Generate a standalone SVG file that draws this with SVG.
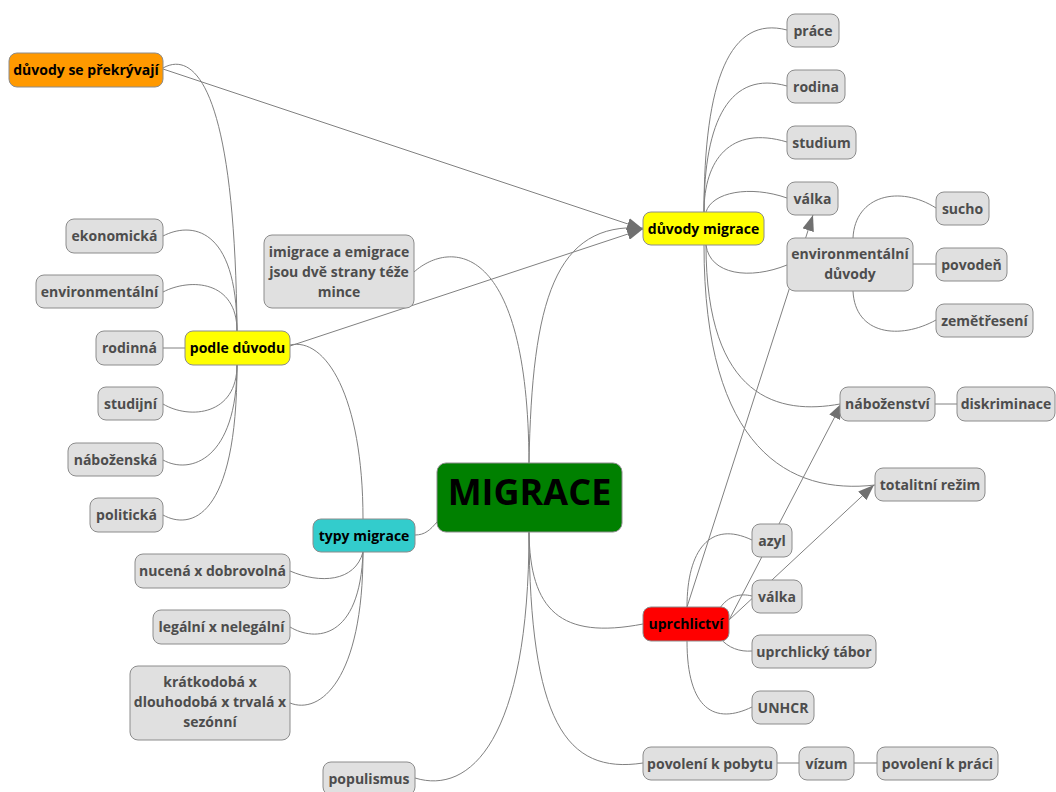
<svg xmlns="http://www.w3.org/2000/svg" width="1056" height="792" viewBox="0 0 1056 792">
<defs>
<style>
.n rect{fill:#e0e0e0;stroke:#8c8c8c;stroke-width:1}
.n text{font-family:"Open Sans","Noto Sans","Liberation Sans",sans-serif;font-weight:700;font-size:14px;fill:#4d4d4d;text-anchor:middle}
.n.k text{fill:#000}
.c path,.c line{fill:none;stroke:#808080;stroke-width:1}
.c .a{marker-end:url(#ah)}
</style>
<marker id="ah" viewBox="0 0 16 12" refX="16" refY="6" markerWidth="16" markerHeight="12" markerUnits="userSpaceOnUse" orient="auto"><path d="M0,0 L16,6 L0,12 z" fill="#707070"/></marker>
</defs>
<rect width="1056" height="792" fill="#ffffff"/>
<g id="connectors" class="c">
<path d="M414,272 C450,240 528,240 529,463"/>
<path d="M529,463 C532,300 555,222 643,228"/>
<path d="M437,522 C430,530 425,535 415,535"/>
<path d="M529,532 C530,610 560,640 643,624"/>
<path d="M529,532 C530,720 565,775 643,763"/>
<path d="M415,778 C470,795 529,740 529,532"/>
<path d="M290,345 C325,337 363,395 363,519"/>
<path d="M290,571 C320,584 355,582 363,552"/>
<path d="M290,627 C315,642 360,640 363,552"/>
<path d="M290,703 C320,715 363,680 363,552"/>
<path d="M163,68 C195,50 235,90 237,331"/>
<path d="M163,236 C190,222 237,225 237,331"/>
<path d="M163,292 C190,278 237,280 237,331"/>
<line x1="163" y1="348" x2="185" y2="348"/>
<path d="M163,404 C190,420 237,415 237,365"/>
<path d="M163,460 C190,475 237,460 237,365"/>
<path d="M163,515 C190,530 237,520 237,365"/>
<path d="M704,212 C704,80 730,15 787,30"/>
<path d="M704,212 C704,120 730,70 787,86"/>
<path d="M704,212 C704,160 730,125 787,142"/>
<path d="M706,212 C712,192 750,185 787,198"/>
<path d="M706,245 C710,275 750,280 787,265"/>
<path d="M706,245 C706,400 780,415 840,404"/>
<path d="M704,245 C704,450 790,495 875,485"/>
<path d="M853,238 C855,195 900,185 936,208"/>
<line x1="913" y1="264" x2="936" y2="264"/>
<path d="M853,291 C855,335 900,340 936,320"/>
<line x1="935" y1="404" x2="957" y2="404"/>
<path d="M687,607 C687,550 710,520 752,540"/>
<path d="M720,608 C728,596 740,593 752,596"/>
<path d="M720,638 C728,648 740,652 752,651"/>
<path d="M687,641 C687,710 715,725 752,707"/>
<line x1="777" y1="763" x2="799" y2="763"/>
<line x1="854" y1="763" x2="877" y2="763"/>
<line class="a" x1="163" y1="69" x2="643" y2="229"/>
<line class="a" x1="290" y1="346" x2="643" y2="229"/>
<line class="a" x1="687" y1="607" x2="813" y2="215"/>
<line class="a" x1="729" y1="620" x2="842" y2="403"/>
<line class="a" x1="729" y1="620" x2="874" y2="485"/>
</g>
<g id="dsp" class="n k"><rect x="9" y="53" width="154" height="34" rx="8" style="fill:#ff9900"/><text x="86" y="75">důvody se překrývají</text></g>
<g id="dm" class="n k"><rect x="643" y="212" width="121" height="33" rx="8" style="fill:#ffff00"/><text x="703.5" y="233.5">důvody migrace</text></g>
<g id="prace" class="n"><rect x="787" y="14" width="52" height="33" rx="8"/><text x="813" y="35.5">práce</text></g>
<g id="rodina" class="n"><rect x="787" y="70" width="58" height="33" rx="8"/><text x="816" y="91.5">rodina</text></g>
<g id="studium" class="n"><rect x="787" y="126" width="69" height="33" rx="8"/><text x="821.5" y="147.5">studium</text></g>
<g id="valka1" class="n"><rect x="787" y="182" width="51" height="33" rx="8"/><text x="812.5" y="203.5">válka</text></g>
<g id="envd" class="n"><rect x="787" y="238" width="126" height="53" rx="8"/><text x="850" y="259">environmentální</text><text x="850" y="279">důvody</text></g>
<g id="sucho" class="n"><rect x="936" y="192" width="53" height="33" rx="8"/><text x="962.5" y="213.5">sucho</text></g>
<g id="povoden" class="n"><rect x="936" y="248" width="71" height="33" rx="8"/><text x="971.5" y="269.5">povodeň</text></g>
<g id="zeme" class="n"><rect x="936" y="304" width="97" height="33" rx="8"/><text x="984.5" y="325.5">zemětřesení</text></g>
<g id="nabozenstvi" class="n"><rect x="840" y="387" width="95" height="34" rx="8"/><text x="887.5" y="409">náboženství</text></g>
<g id="diskriminace" class="n"><rect x="957" y="387" width="98" height="34" rx="8"/><text x="1006" y="409">diskriminace</text></g>
<g id="totalitni" class="n"><rect x="875" y="468" width="110" height="33" rx="8"/><text x="930" y="489.5">totalitní režim</text></g>
<g id="azyl" class="n"><rect x="752" y="524" width="40" height="33" rx="8"/><text x="772" y="545.5">azyl</text></g>
<g id="valka2" class="n"><rect x="752" y="580" width="50" height="33" rx="8"/><text x="777" y="601.5">válka</text></g>
<g id="uprchlictvi" class="n k"><rect x="643" y="607" width="86" height="34" rx="8" style="fill:#ff0000"/><text x="686" y="629">uprchlictví</text></g>
<g id="tabor" class="n"><rect x="752" y="635" width="124" height="33" rx="8"/><text x="814" y="656.5">uprchlický tábor</text></g>
<g id="unhcr" class="n"><rect x="752" y="691" width="62" height="33" rx="8"/><text x="783" y="712.5">UNHCR</text></g>
<g id="pobyt" class="n"><rect x="643" y="747" width="134" height="33" rx="8"/><text x="710" y="768.5">povolení k pobytu</text></g>
<g id="vizum" class="n"><rect x="799" y="747" width="55" height="33" rx="8"/><text x="826.5" y="768.5">vízum</text></g>
<g id="povoleniprace" class="n"><rect x="877" y="747" width="121" height="33" rx="8"/><text x="937.5" y="768.5">povolení k práci</text></g>
<g id="migrace" class="n k"><rect x="437" y="463" width="185" height="69" rx="9" style="fill:#008000"/><text x="529.5" y="505" style="font-size:36px">MIGRACE</text></g>
<g id="populismus" class="n"><rect x="323" y="762" width="92" height="33" rx="8"/><text x="369" y="783.5">populismus</text></g>
<g id="typy" class="n k"><rect x="313" y="519" width="102" height="33" rx="8" style="fill:#33cccc"/><text x="364" y="540.5">typy migrace</text></g>
<g id="nucena" class="n"><rect x="135" y="554" width="155" height="34" rx="8"/><text x="212.5" y="576">nucená x dobrovolná</text></g>
<g id="legalni" class="n"><rect x="153" y="610" width="137" height="34" rx="8"/><text x="221.5" y="632">legální x nelegální</text></g>
<g id="kratkodoba" class="n"><rect x="130" y="666" width="160" height="74" rx="8"/><text x="210" y="687">krátkodobá x</text><text x="210" y="707">dlouhodobá x trvalá x</text><text x="210" y="727">sezónní</text></g>
<g id="podle" class="n k"><rect x="185" y="331" width="105" height="34" rx="8" style="fill:#ffff00"/><text x="237.5" y="353">podle důvodu</text></g>
<g id="ekonomicka" class="n"><rect x="66" y="219" width="97" height="34" rx="8"/><text x="114.5" y="241">ekonomická</text></g>
<g id="envl" class="n"><rect x="36" y="275" width="127" height="33" rx="8"/><text x="99.5" y="296.5">environmentální</text></g>
<g id="rodinna" class="n"><rect x="96" y="331" width="67" height="34" rx="8"/><text x="129.5" y="353">rodinná</text></g>
<g id="studijni" class="n"><rect x="98" y="387" width="65" height="33" rx="8"/><text x="130.5" y="408.5">studijní</text></g>
<g id="nabozenska" class="n"><rect x="68" y="443" width="95" height="33" rx="8"/><text x="115.5" y="464.5">náboženská</text></g>
<g id="politicka" class="n"><rect x="90" y="498" width="73" height="34" rx="8"/><text x="126.5" y="520">politická</text></g>
<g id="imigrace" class="n"><rect x="264" y="235" width="150" height="73" rx="8"/><text x="339" y="257">imigrace a emigrace</text><text x="339" y="277">jsou dvě strany téže</text><text x="339" y="297">mince</text></g>
</svg>
